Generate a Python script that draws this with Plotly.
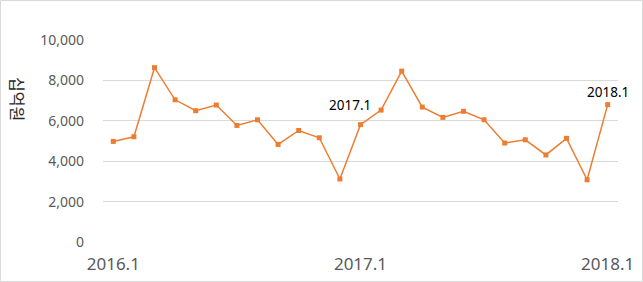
import plotly.graph_objects as go

months = [f"{y}.{m}" for y in (2016, 2017) for m in range(1, 13)] + ["2018.1"]
values = [4980, 5210, 8630, 7040, 6500, 6780, 5770, 6050, 4830, 5520, 5160, 3120,
          5810, 6530, 8460, 6680, 6170, 6470, 6050, 4900, 5060, 4310, 5130, 3080, 6800]
tick_labels = ["2016.1", "2017.1", "2018.1"]
y_ticks = [0, 2000, 4000, 6000, 8000, 10000]
point_labels = {"2017.1": (-11, 20), "2018.1": (0, 13)}

W, H = 643, 282
ML, MR, MT, MB = 103, 25, 40, 40
PW, PH = W - ML - MR, H - MT - MB

fig = go.Figure()
fig.add_trace(go.Scatter(
    x=months, y=values, mode="lines+markers",
    line=dict(color="#ED7D31", width=1.5),
    marker=dict(symbol="square", size=5, color="#ED7D31"),
    hoverinfo="skip",
))

for lab, (dx, dy) in point_labels.items():
    i = months.index(lab)
    fig.add_annotation(x=i, y=values[i], text=lab, showarrow=False,
                       xshift=dx, yshift=dy, yanchor="middle",
                       font=dict(family="Noto Sans", size=13.5, color="#000000"))

fig.add_annotation(xref="paper", yref="paper", x=(18 - ML) / PW, y=(H - MB - 99) / PH,
                   xanchor="center", yanchor="middle",
                   text="십억원", textangle=90, showarrow=False,
                   font=dict(family="Noto Sans CJK KR", size=16, color="#262626"))

fig.add_shape(type="rect", xref="paper", yref="paper",
              x0=(0.5 - ML) / PW, x1=(W - 0.5 - ML) / PW,
              y0=(-MB + 0.5) / PH, y1=(H - MB - 0.5) / PH,
              line=dict(color="#D9D9D9", width=1), layer="below")

fig.update_layout(
    width=W, height=H, margin=dict(l=ML, r=MR, t=MT, b=MB),
    paper_bgcolor="white", plot_bgcolor="white", showlegend=False,
    xaxis=dict(type="category", range=[-0.5, len(months) - 0.5], automargin=False,
               tickvals=tick_labels, ticktext=tick_labels,
               showgrid=False, zeroline=False, showline=False,
               ticks="outside", ticklen=0, ticklabelstandoff=7,
               tickfont=dict(family="Noto Sans", size=17, color="#595959")),
    yaxis=dict(range=[0, 10000], tickvals=y_ticks, automargin=False,
               ticktext=[f"{v:,}" for v in y_ticks],
               showgrid=True, gridcolor="#D9D9D9", gridwidth=1,
               zeroline=False, showline=False, ticklabelstandoff=18,
               tickfont=dict(family="Noto Sans", size=14, color="#595959")),
)

fig.write_html("out.html")
